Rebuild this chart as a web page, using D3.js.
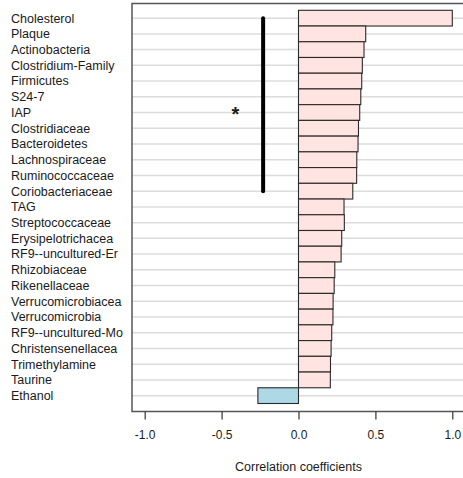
<!DOCTYPE html>
<html>
<head>
<meta charset="utf-8">
<script src="https://cdn.jsdelivr.net/npm/d3@7"></script>
<style>
  body { margin: 0; background: #fff; }
  text { font-family: "Liberation Sans", Arial, sans-serif; fill: #1a1a1a; }
</style>
</head>
<body>
<div id="chart"></div>
<script>
// categories top to bottom
const categories = ["Cholesterol", "Plaque", "Actinobacteria", "Clostridium-Family", "Firmicutes",
    "S24-7", "IAP", "Clostridiaceae", "Bacteroidetes", "Lachnospiraceae", "Ruminococcaceae",
    "Coriobacteriaceae", "TAG", "Streptococcaceae", "Erysipelotrichacea", "RF9--uncultured-Er",
    "Rhizobiaceae", "Rikenellaceae", "Verrucomicrobiacea", "Verrucomicrobia", "RF9--uncultured-Mo",
    "Christensenellacea", "Trimethylamine", "Taurine", "Ethanol"];

// correlation coefficients
const coefficients = [1.0, 0.437, 0.426, 0.415, 0.411, 0.405, 0.398, 0.39, 0.387, 0.379, 0.378,
    0.353, 0.296, 0.298, 0.281, 0.277, 0.236, 0.232, 0.225, 0.224, 0.216, 0.212, 0.208, 0.207, -0.264];

const xTicks = [-1.0, -0.5, 0.0, 0.5, 1.0];

// significance bracket: from first to last category, at x value
const bracket = {from: "Cholesterol", to: "Coriobacteriaceae", x: -0.23};
const star = {cat: "IAP", x: -0.41, label: "*"};

const data = categories.map((c, i) => ({name: c, value: coefficients[i]}));

const width = 463;
const height = 478;

const svg = d3.select("#chart")
    .append("svg")
    .attr("width", width)
    .attr("height", height);

const x = d3.scaleLinear()
    .domain([-1, 1])
    .range([144.7, 452.3]);

const y = d3.scaleBand()
    .domain(categories)
    .range([10.3, 403.5])
    .padding(0);

const boxLeft = 132, boxTop = 3.5, boxBottom = 411.5;

// gridlines at band centres
svg.append("g")
    .selectAll("line")
    .data(categories)
    .enter()
    .append("line")
    .attr("x1", boxLeft)
    .attr("x2", width + 5)
    .attr("y1", d => y(d) + y.bandwidth() / 2)
    .attr("y2", d => y(d) + y.bandwidth() / 2)
    .attr("stroke", "#dcdcdc")
    .attr("stroke-width", 1.5);

// bars
svg.append("g")
    .selectAll("rect")
    .data(data)
    .enter()
    .append("rect")
    .attr("x", d => x(Math.min(0, d.value)))
    .attr("y", d => y(d.name))
    .attr("width", d => Math.abs(x(d.value) - x(0)))
    .attr("height", y.bandwidth())
    .attr("fill", d => d.value < 0 ? "#add8e6" : "#ffe4e1")
    .attr("stroke", "#2a2a2a")
    .attr("stroke-width", 1.1);

// box
svg.append("path")
    .attr("d", `M${width + 5},${boxTop}H${boxLeft}V${boxBottom}H${width + 5}`)
    .attr("fill", "none")
    .attr("stroke", "#555")
    .attr("stroke-width", 1.5);

// x axis
const xAxis = svg.append("g")
    .attr("transform", `translate(0,${boxBottom})`)
    .call(d3.axisBottom(x).tickValues(xTicks).tickFormat(d3.format(".1f")).tickSize(8).tickPadding(11).tickSizeOuter(0));
xAxis.select(".domain").remove();
xAxis.selectAll("line").attr("stroke", "#333").attr("stroke-width", 1.2);
xAxis.selectAll("text")
    .attr("font-size", "12px")
    .attr("font-family", "Liberation Sans, Arial, sans-serif")
    .attr("fill", "#1a1a1a")
    .text(d => d3.format(".1f")(d).replace("−", "-"));

// category labels
svg.append("g")
    .selectAll("text")
    .data(categories)
    .enter()
    .append("text")
    .attr("x", 11)
    .attr("y", d => y(d) + y.bandwidth() / 2)
    .attr("dy", "0.35em")
    .attr("font-size", "12.5px")
    .text(d => d);

// axis title
svg.append("text")
    .attr("x", x(0))
    .attr("y", 466.5)
    .attr("dy", "0.35em")
    .attr("text-anchor", "middle")
    .attr("font-size", "12.5px")
    .text("Correlation coefficients");

// significance bracket
svg.append("line")
    .attr("x1", x(bracket.x))
    .attr("x2", x(bracket.x))
    .attr("y1", y(bracket.from) + y.bandwidth() / 2)
    .attr("y2", y(bracket.to) + y.bandwidth() / 2)
    .attr("stroke", "#000")
    .attr("stroke-width", 4)
    .attr("stroke-linecap", "round");

svg.append("text")
    .attr("x", x(star.x))
    .attr("y", y(star.cat) + y.bandwidth() / 2)
    .attr("dy", "0.4em")
    .attr("text-anchor", "middle")
    .attr("font-size", "20px")
    .attr("font-weight", "bold")
    .attr("fill", "#000")
    .text(star.label);
</script>
</body>
</html>
